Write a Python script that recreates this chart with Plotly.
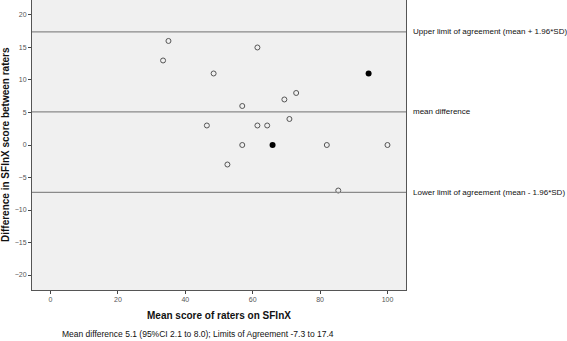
import plotly.graph_objects as go

# Data
mean_score_open = [35.0, 33.4, 48.4, 61.4, 72.9, 69.4, 56.9, 70.9, 46.4, 61.4, 64.3, 56.9, 82.0, 100.0, 52.5, 85.4]
diff_open = [16, 13, 11, 15, 8, 7, 6, 4, 3, 3, 3, 0, 0, 0, -3, -7]
mean_score_filled = [94.4, 65.9]
diff_filled = [11, 0]

mean_diff = 5.1
upper_loa = 17.4
lower_loa = -7.3

line_labels = ["Upper limit of agreement (mean + 1.96*SD)", "mean difference",
               "Lower limit of agreement (mean - 1.96*SD)"]
x_ticks = [0, 20, 40, 60, 80, 100]
y_ticks = [20, 15, 10, 5, 0, -5, -10, -15, -20]

FONT = "Liberation Sans, Arial, sans-serif"

fig = go.Figure()
fig.add_trace(go.Scatter(x=mean_score_open, y=diff_open, mode="markers",
                         marker=dict(symbol="circle-open", size=5, color="#555555",
                                     line=dict(width=1, color="#555555")),
                         showlegend=False))
fig.add_trace(go.Scatter(x=mean_score_filled, y=diff_filled, mode="markers",
                         marker=dict(symbol="circle", size=6, color="#000000"),
                         showlegend=False))

for val, lab in zip([upper_loa, mean_diff, lower_loa], line_labels):
    fig.add_hline(y=val, line=dict(color="#8a8a8a", width=1.3))
    fig.add_annotation(x=1.0, xref="paper", y=val, yref="y", text=lab, showarrow=False,
                       xanchor="left", xshift=5, font=dict(family=FONT, size=8, color="#111111"))

fig.add_annotation(x=-27 / 374, xref="paper", y=0.5, yref="paper",
                   text="<b>Difference in SFInX score between raters</b>", textangle=-90,
                   showarrow=False, xanchor="center",
                   font=dict(family=FONT, size=10, color="#111111"))
fig.add_annotation(x=0.5, xref="paper", y=-25 / 290, yref="paper", yanchor="middle",
                   text="<b>Mean score of raters on SFInX</b>", showarrow=False,
                   font=dict(family=FONT, size=10, color="#111111"))
fig.add_annotation(x=(60 - 32) / 374, xref="paper", y=-44 / 290, yref="paper", xanchor="left", yanchor="middle",
                   text="Mean difference 5.1 (95%CI 2.1 to 8.0); Limits of Agreement -7.3 to 17.4",
                   showarrow=False, font=dict(family=FONT, size=8.5, color="#111111"))

fig.update_xaxes(range=[-5.5, 105.5], tickvals=x_ticks, ticks="outside", ticklen=3,
                 tickcolor="#444444", showgrid=False, zeroline=False, showline=True,
                 linecolor="#555555", linewidth=1, mirror=True,
                 tickfont=dict(family=FONT, size=7, color="#555555"))
fig.update_yaxes(range=[-22.3, 22.3], tickvals=y_ticks, ticks="outside", ticklen=3,
                 tickcolor="#444444", showgrid=False, zeroline=False, showline=True,
                 linecolor="#555555", linewidth=1, mirror=True,
                 tickfont=dict(family=FONT, size=7, color="#555555"))

fig.update_layout(width=567, height=341, margin=dict(l=32, r=161, t=0, b=51),
                  plot_bgcolor="#f0f0f0", paper_bgcolor="#ffffff", showlegend=False)

fig.write_html("out.html", config={"displayModeBar": False},
               post_script="document.body.style.margin='0';document.body.style.overflow='hidden';")
